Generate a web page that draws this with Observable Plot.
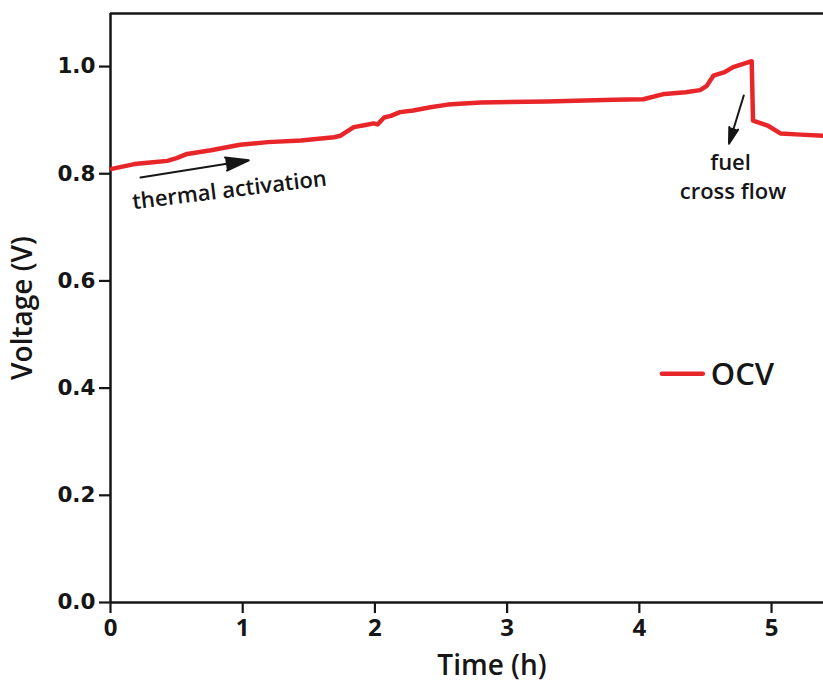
<!DOCTYPE html>
<html><head><meta charset="utf-8">
<script src="https://cdn.jsdelivr.net/npm/d3@7"></script>
<script src="https://cdn.jsdelivr.net/npm/@observablehq/plot@0.6"></script>
<style>
body{margin:0;background:#fff;}
svg text{font-family:"Open Sans",sans-serif;}
g[aria-label="x-axis tick label"] text{font-size:24px;font-weight:700;font-family:"Open Sans",sans-serif;}
g[aria-label="y-axis tick label"] text{font-size:21.5px;font-weight:700;font-family:"DejaVu Sans",sans-serif;}
</style></head>
<body><div id="chart"></div>
<script>
const timeH = [0.01,0.18,0.30,0.43,0.50,0.58,0.76,0.98,1.19,1.44,1.69,1.74,1.84,1.93,1.99,2.02,2.07,2.12,2.19,2.29,2.42,2.55,2.80,3.30,3.81,4.03,4.19,4.35,4.46,4.51,4.56,4.64,4.71,4.85,4.86,4.97,5.07,5.22,5.39];
const voltage = [0.809,0.818,0.821,0.824,0.829,0.837,0.844,0.854,0.859,0.862,0.868,0.871,0.887,0.891,0.894,0.892,0.905,0.908,0.915,0.918,0.924,0.929,0.933,0.935,0.938,0.939,0.949,0.952,0.956,0.964,0.983,0.989,0.999,1.010,0.899,0.890,0.875,0.873,0.871];
const xTicks = [0,1,2,3,4,5];
const yTicks = [0,0.2,0.4,0.6,0.8,1.0];
const seriesName = ["OCV"];
const legendLine = [{t:4.17,v:0.427},{t:4.48,v:0.427}];
const legendLabel = [{t:4.54,v:0.4235,text:seriesName[0]}];
const arrowsData = [
  {t1:0.227,v1:0.793,t2:1.046,v2:0.825},
  {t1:4.79,v1:0.946,t2:4.678,v2:0.856}
];
const notes = [
  {t:0.90,v:0.769,text:"thermal activation",rot:-7},
  {t:4.69,v:0.820,text:"fuel",rot:0},
  {t:4.708,v:0.766,text:"cross flow",rot:0}
];
const data = timeH.map((t,i)=>({t, v:voltage[i]}));
const red = "#e8262a";
const ink = "#161616";

const plot = Plot.plot({
  width:823, height:683,
  marginLeft:110, marginTop:13, marginBottom:81, marginRight:0,
  x:{domain:[0,5.393]},
  y:{domain:[0,1.099]},
  marks:[
    Plot.axisX({ticks:xTicks, tickSize:11, tickPadding:5, tickFormat:d=>d3.format("d")(d), label:null,
      fontSize:24, fontWeight:"bold", strokeWidth:2.2, stroke:ink, fill:ink}),
    Plot.axisY({ticks:yTicks, tickSize:11, tickPadding:4, tickFormat:d3.format(".1f"), label:null,
      fontSize:21.5, fontWeight:"bold", strokeWidth:2.2, stroke:ink, fill:ink}),
    Plot.ruleY([0],{strokeWidth:2.5, stroke:ink}),
    Plot.ruleX([0],{strokeWidth:2.5, stroke:ink}),
    Plot.ruleY([1.099],{strokeWidth:2.5, stroke:ink}),
    Plot.line(data,{x:"t", y:"v", stroke:red, strokeWidth:4.5, strokeLinejoin:"round"}),
    Plot.line(legendLine,{x:"t", y:"v", stroke:red, strokeWidth:4.5}),
    Plot.text(legendLabel,{x:"t", y:"v", text:"text", textAnchor:"start", lineAnchor:"middle", fontSize:31, fontWeight:600, fill:ink}),
    Plot.arrow(arrowsData,{x1:"t1", y1:"v1", x2:"t2", y2:"v2", stroke:ink, fill:ink, strokeWidth:2, headLength:18, headAngle:32}),
    Plot.text(notes,{x:"t", y:"v", text:"text", rotate:"rot", lineAnchor:"middle", fontSize:22, fontWeight:600, fill:ink}),
    Plot.text(["Time (h)"],{frameAnchor:"bottom", textAnchor:"middle", lineAnchor:"middle", dx:25, dy:64, fontSize:28, fontWeight:600, fill:ink, style:{letterSpacing:"0.8px"}}),
    Plot.text(["Voltage (V)"],{frameAnchor:"left", textAnchor:"middle", lineAnchor:"middle", dx:-87, rotate:-90, fontSize:28, fontWeight:600, fill:ink, style:{letterSpacing:"0.8px"}})
  ]
});
document.getElementById("chart").appendChild(plot);
</script></body></html>
